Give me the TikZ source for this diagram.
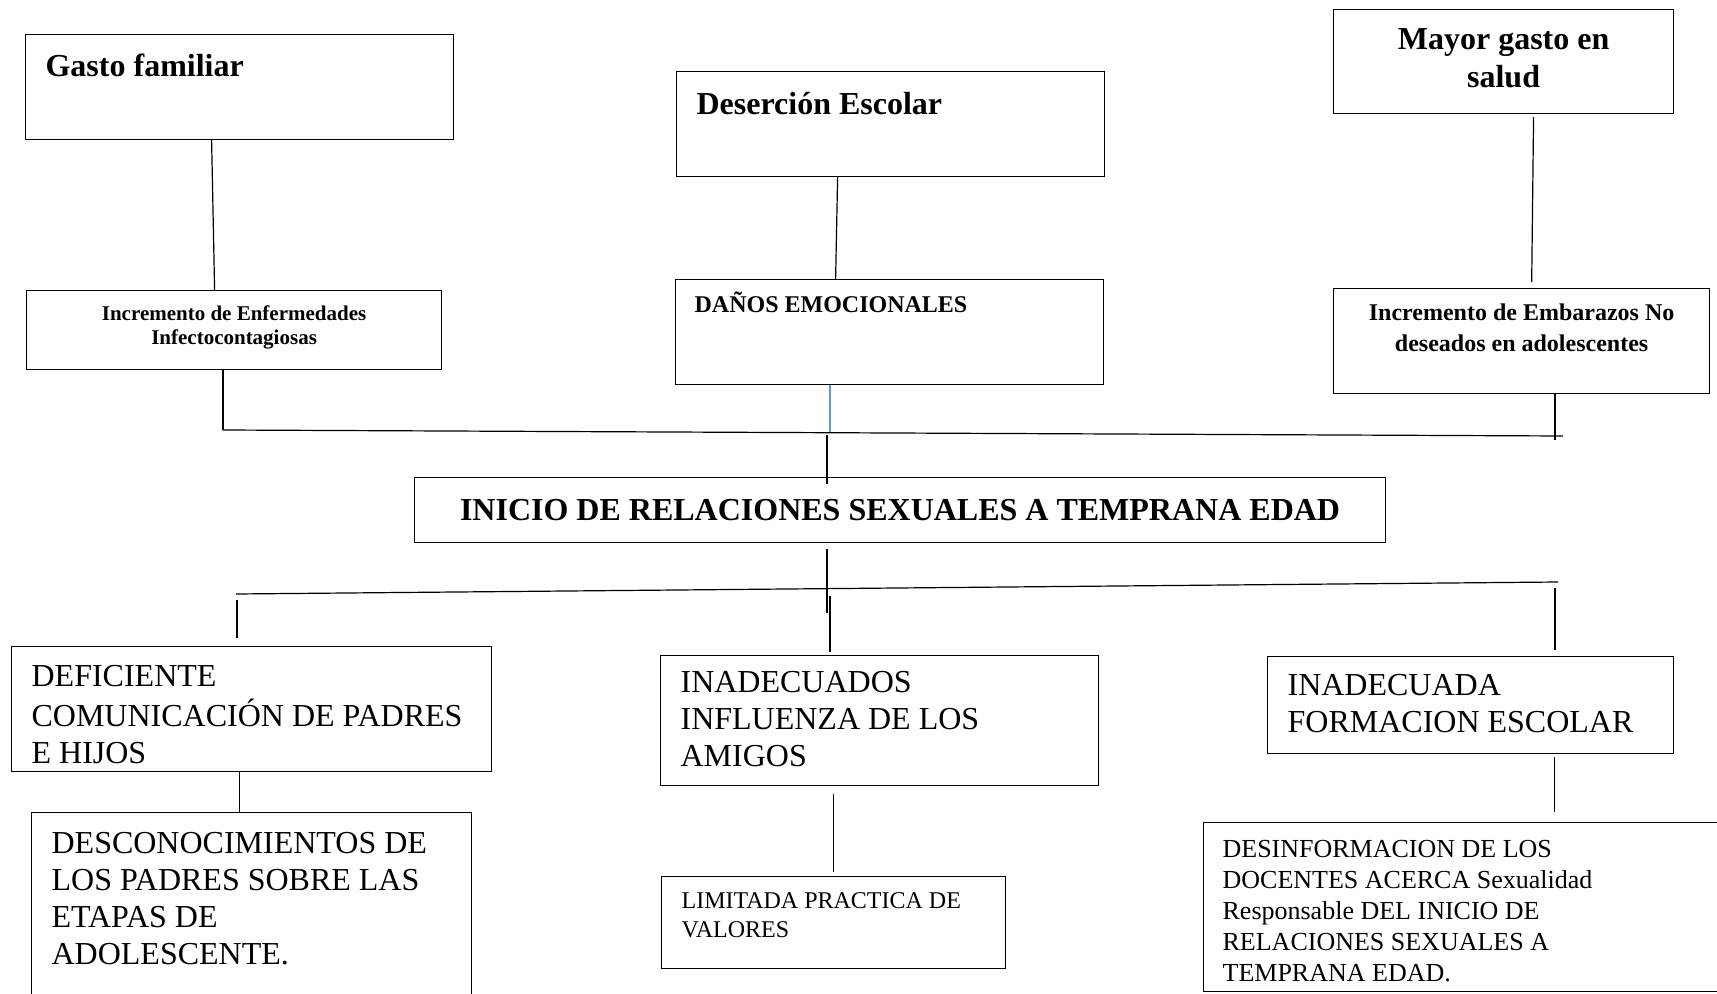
\documentclass[tikz,border=0pt]{standalone}
\usepackage{fontspec}
\setmainfont{Liberation Serif}

\definecolor{azul}{RGB}{91,155,213}
% text block: width, height, top gap, text
\newcommand{\bloque}[4]{\parbox[c][#2][t]{#1}{\raggedright\vspace*{#3}\strut#4}}

\tikzset{
  caja/.style={draw, anchor=north west, inner xsep=10pt, inner ysep=0pt},
  efecto/.style={font=\fontsize{16}{19}\selectfont\bfseries},
  causa/.style={font=\fontsize{16}{18.5}\selectfont}
}

\begin{document}
\begin{tikzpicture}[x=0.5pt, y=-0.5pt, line width=0.6pt]
    \useasboundingbox (0,0) rectangle (1717,994);
    \clip (0,0) rectangle (1717,994);

    % effects
    \node[caja, efecto] (gasto) at (25,34) {\bloque{194pt}{52.5pt}{7.5pt}{Gasto familiar}};
    \node[caja, efecto] (desercion) at (676,71) {\bloque{194pt}{52.5pt}{8pt}{Deserción Escolar}};
    \node[caja, efecto] (mayor) at (1333,9) {\bloque{150pt}{52pt}{6.5pt}{\centering Mayor gasto en\\salud}};
    \node[caja, font=\fontsize{10.5}{12}\selectfont\bfseries] (incenf) at (26,290)
        {\bloque{187.5pt}{39.5pt}{6.6pt}{\centering Incremento de Enfermedades\\Infectocontagiosas}};
    \node[caja, inner xsep=9.5pt, font=\fontsize{12}{14.4}\selectfont\bfseries] (danos) at (675,279)
        {\bloque{195pt}{52.5pt}{6pt}{DAÑOS EMOCIONALES}};
    \node[caja, font=\fontsize{12}{15.5}\selectfont\bfseries] (incemb) at (1333,288)
        {\bloque{168pt}{52.5pt}{5pt}{\centering Incremento de Embarazos No\\deseados en  adolescentes}};

    % problem
    \node[caja, efecto, minimum width=485.5pt, minimum height=32.5pt] (inicio) at (414,477)
        {INICIO DE RELACIONES SEXUALES A TEMPRANA EDAD};

    % causes
    \node[caja, causa] (deficiente) at (11,646) {\bloque{220pt}{62.5pt}{6.9pt}{DEFICIENTE\\COMUNICACIÓN DE PADRES\\E HIJOS}};
    \node[caja, causa] (inadecuados) at (660,655) {\bloque{199pt}{65pt}{5.7pt}{INADECUADOS\\INFLUENZA DE LOS\\AMIGOS}};
    \node[caja, causa] (inadecuada) at (1267,656) {\bloque{183pt}{48.5pt}{6.7pt}{INADECUADA\\FORMACION ESCOLAR}};
    \node[caja, causa] (desconoc) at (31,812)
        {\bloque{200pt}{110pt}{7.25pt}{DESCONOCIMIENTOS DE\\LOS PADRES SOBRE LAS\\ETAPAS DE\\ADOLESCENTE.}};
    \node[caja, font=\fontsize{12}{14.5}\selectfont] (limitada) at (661,876)
        {\bloque{152pt}{46pt}{5.8pt}{LIMITADA PRACTICA DE\\VALORES}};
    \node[caja, inner xsep=9.5pt, font=\fontsize{13}{15.5}\selectfont] (desinfo) at (1203,822)
        {\bloque{261pt}{84.5pt}{6.5pt}{DESINFORMACION DE LOS\\DOCENTES ACERCA Sexualidad\\Responsable DEL INICIO DE\\RELACIONES SEXUALES A\\TEMPRANA EDAD.}};

    % bar ends and joints
    \coordinate (jA1) at (223,430); \coordinate (jA2) at (1563,436);
    \coordinate (jD) at (830,433);  \coordinate (jI) at (827,435);
    \coordinate (jE) at (1555,440);
    \coordinate (jB1) at (236,594); \coordinate (jB2) at (1558,582);
    \coordinate (jC) at (827,613);
    \coordinate (jL) at (237,594);  \coordinate (jM) at (830,589);
    \coordinate (jR) at (1555,583);

    % upper tree
    \draw ([xshift=-14pt]gasto.south) -- ([xshift=-9.75pt]incenf.north);
    \draw (incenf.south -| jA1) -- (jA1);
    \draw ([xshift=-26.5pt]desercion.south) -- ([xshift=-27pt]danos.north);
    \draw[azul] (danos.south -| jD) -- (jD);
    \draw[shorten <=1.5pt, shorten >=3pt] ([xshift=15pt]mayor.south) -- ([xshift=5pt]incemb.north);
    \draw (incemb.south -| jE) -- (jE);
    \draw (jA1) -- (jA2);
    \draw (jI) -- (inicio.north -| jI) -- ++(0,7);

    % lower tree
    \draw[shorten <=3pt] (inicio.south -| jC) -- (jC);
    \draw (jB1) -- (jB2);
    \draw[shorten <=3pt, shorten >=4pt] (jL) -- (deficiente.north -| jL);
    \draw[shorten <=3.5pt, shorten >=1.5pt] (jM) -- (inadecuados.north -| jM);
    \draw[shorten <=2.5pt, shorten >=3pt] (jR) -- (inadecuada.north -| jR);
    \draw ([xshift=-6pt]deficiente.south) -- ([xshift=-6pt]desconoc.north);
    \draw[shorten <=4pt, shorten >=2pt] ([xshift=-23pt]inadecuados.south) -- (limitada.north);
    \draw[shorten <=1.5pt, shorten >=5pt] ([xshift=42pt]inadecuada.south) -- ([xshift=35.5pt]desinfo.north);
\end{tikzpicture}
\end{document}
